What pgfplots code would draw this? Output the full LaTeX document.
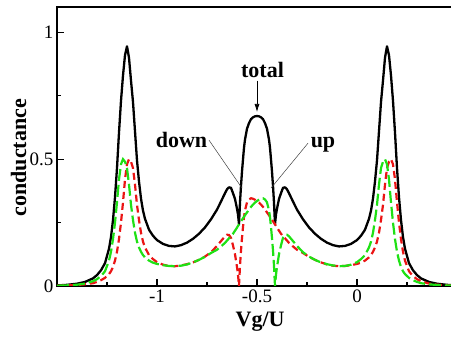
\documentclass[border=0pt]{standalone}
\usepackage{fontspec}
\setmainfont{Liberation Serif}
\usepackage{pgfplots}
\pgfplotsset{compat=1.18}
\usepackage{pgfplotstable}
\usetikzlibrary{arrows.meta}
\definecolor{myred}{RGB}{235,20,20}
\definecolor{mygreen}{RGB}{30,225,20}
\pgfplotstableread{
x g r t
-1.50 0.0012 0.001 0.0022
-1.45 0.0025 0.002 0.0045
-1.40 0.005 0.004 0.009
-1.36 0.0095 0.0065 0.016
-1.32 0.019 0.011 0.030
-1.30 0.027 0.016 0.043
-1.28 0.039 0.023 0.062
-1.26 0.058 0.032 0.090
-1.24 0.100 0.047 0.147
-1.23 0.135 0.058 0.193
-1.22 0.185 0.075 0.260
-1.21 0.250 0.100 0.350
-1.20 0.330 0.135 0.465
-1.19 0.420 0.185 0.605
-1.18 0.480 0.250 0.730
-1.17 0.500 0.330 0.830
-1.16 0.490 0.420 0.910
-1.15 0.465 0.480 0.945
-1.14 0.400 0.500 0.900
-1.13 0.320 0.490 0.810
-1.12 0.260 0.465 0.725
-1.11 0.210 0.400 0.610
-1.10 0.175 0.320 0.495
-1.09 0.152 0.260 0.412
-1.08 0.135 0.210 0.345
-1.07 0.122 0.175 0.297
-1.06 0.113 0.152 0.265
-1.04 0.100 0.122 0.222
-1.02 0.092 0.106 0.198
-1.00 0.087 0.094 0.181
-0.97 0.082 0.084 0.166
-0.94 0.079 0.079 0.158
-0.91 0.078 0.078 0.156
-0.88 0.080 0.081 0.161
-0.85 0.085 0.086 0.171
-0.82 0.093 0.093 0.186
-0.79 0.103 0.103 0.206
-0.76 0.115 0.116 0.231
-0.73 0.130 0.133 0.263
-0.70 0.143 0.158 0.301
-0.68 0.156 0.177 0.333
-0.66 0.170 0.196 0.366
-0.65 0.179 0.202 0.381
-0.64 0.188 0.201 0.389
-0.63 0.197 0.190 0.387
-0.62 0.206 0.160 0.366
-0.61 0.218 0.125 0.343
-0.60 0.230 0.075 0.305
-0.595 0.237 0.045 0.282
-0.59 0.243 0.000 0.243
-0.585 0.249 0.080 0.329
-0.58 0.255 0.140 0.395
-0.575 0.261 0.190 0.451
-0.57 0.267 0.232 0.499
-0.565 0.273 0.272 0.545
-0.56 0.279 0.298 0.577
-0.55 0.290 0.330 0.620
-0.54 0.301 0.341 0.642
-0.53 0.312 0.346 0.658
-0.52 0.321 0.344 0.665
-0.51 0.329 0.340 0.669
-0.50 0.335 0.335 0.670
-0.49 0.340 0.329 0.669
-0.48 0.344 0.321 0.665
-0.47 0.346 0.312 0.658
-0.46 0.341 0.301 0.642
-0.45 0.330 0.290 0.620
-0.44 0.298 0.279 0.577
-0.435 0.272 0.273 0.545
-0.43 0.232 0.267 0.499
-0.425 0.190 0.261 0.451
-0.42 0.140 0.255 0.395
-0.415 0.080 0.249 0.329
-0.41 0.000 0.243 0.243
-0.405 0.045 0.237 0.282
-0.40 0.075 0.230 0.305
-0.39 0.125 0.218 0.343
-0.38 0.160 0.206 0.366
-0.37 0.190 0.197 0.387
-0.36 0.201 0.188 0.389
-0.35 0.202 0.179 0.381
-0.34 0.196 0.170 0.366
-0.32 0.177 0.156 0.333
-0.30 0.158 0.143 0.301
-0.27 0.133 0.130 0.263
-0.24 0.116 0.115 0.231
-0.21 0.103 0.103 0.206
-0.18 0.093 0.093 0.186
-0.15 0.086 0.085 0.171
-0.12 0.081 0.080 0.161
-0.09 0.078 0.078 0.156
-0.06 0.079 0.079 0.158
-0.03 0.084 0.082 0.166
0.00 0.094 0.087 0.181
0.02 0.106 0.092 0.198
0.04 0.122 0.100 0.222
0.06 0.152 0.113 0.265
0.07 0.175 0.122 0.297
0.08 0.210 0.135 0.345
0.09 0.260 0.152 0.412
0.10 0.320 0.175 0.495
0.11 0.400 0.210 0.610
0.12 0.465 0.260 0.725
0.13 0.490 0.320 0.810
0.14 0.500 0.400 0.900
0.15 0.480 0.465 0.945
0.16 0.420 0.490 0.910
0.17 0.330 0.500 0.830
0.18 0.250 0.480 0.730
0.19 0.185 0.420 0.605
0.20 0.135 0.330 0.465
0.21 0.100 0.250 0.350
0.22 0.075 0.185 0.260
0.23 0.058 0.135 0.193
0.24 0.047 0.100 0.147
0.26 0.032 0.058 0.090
0.28 0.023 0.039 0.062
0.30 0.016 0.027 0.043
0.32 0.011 0.019 0.030
0.36 0.0065 0.0095 0.016
0.40 0.004 0.005 0.009
0.45 0.002 0.0025 0.0045
0.50 0.001 0.0012 0.0022
}\cond
\begin{document}
\begin{tikzpicture}
\begin{axis}[
  scale only axis,
  width=396pt, height=279pt,
  xmin=-1.5, xmax=0.48, ymin=0, ymax=1.1,
  axis line style={line width=1.5pt},
  xtick={-1,-0.5,0}, xticklabels={-1,-0.5,0},
  minor xtick={-1.25,-0.75,-0.25,0.25},
  ytick={0,0.5,1}, yticklabels={0,0.5,1},
  minor ytick={0.25,0.75},
  tick align=inside,
  xtick pos=left, ytick pos=left,
  major tick length=7pt, minor tick length=4pt,
  every tick/.style={line width=1.1pt, black},
  ticklabel style={font=\fontsize{19}{19}\selectfont},
  xlabel={Vg/U}, ylabel={conductance},
  label style={font=\fontsize{22}{22}\selectfont\bfseries},
  xlabel style={at={(axis description cs:0.513,-0.129)},anchor=center},
  ylabel style={at={(axis description cs:-0.097,0.46)},anchor=center},
]
\addplot[black, line width=2.3pt, line join=round] table[x=x,y=t]{\cond};
\addplot[myred, line width=2.2pt, dash pattern=on 7pt off 4pt] table[x=x,y=r]{\cond};
\addplot[mygreen, line width=2.2pt, dash pattern=on 12pt off 4pt] table[x=x,y=g]{\cond};
\node[font=\fontsize{22}{22}\selectfont\bfseries, anchor=base] at (axis cs:-0.4725,0.823) {total};
\draw[-{Latex[length=8pt,width=5pt]}, line width=0.7pt] (axis cs:-0.5,0.81) -- (axis cs:-0.5,0.686);
\node[font=\fontsize{22}{22}\selectfont\bfseries, anchor=base] at (axis cs:-0.8775,0.547) {down};
\draw[line width=0.5pt, black!75] (axis cs:-0.74,0.575) -- (axis cs:-0.575,0.386);
\node[font=\fontsize{22}{22}\selectfont\bfseries, anchor=base] at (axis cs:-0.17,0.545) {up};
\draw[line width=0.5pt, black!75] (axis cs:-0.245,0.563) -- (axis cs:-0.43,0.386);
\end{axis}
\pgfresetboundingbox
\path[use as bounding box] (-57pt,-53pt) rectangle (394pt,286pt);
\end{tikzpicture}
\end{document}
